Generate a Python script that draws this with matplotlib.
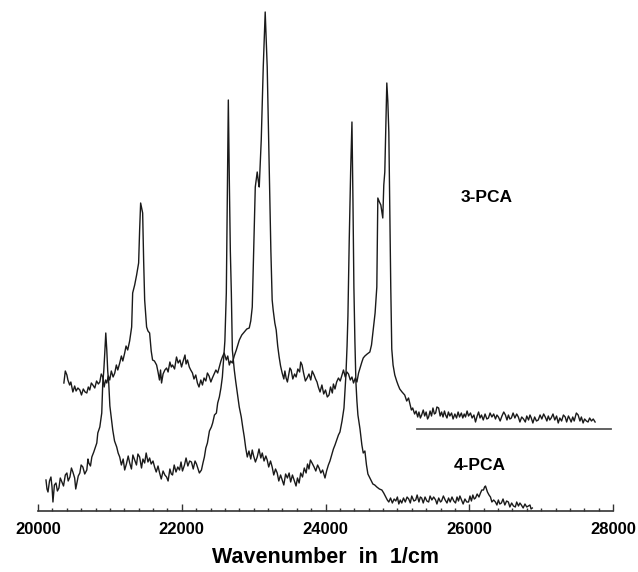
import matplotlib
matplotlib.use("Agg")
import matplotlib.pyplot as plt
from matplotlib.ticker import MultipleLocator

plt.rcParams["font.family"] = ["Liberation Sans", "DejaVu Sans"]

# 3-PCA spectrum: (wavenumber in 1/cm, intensity in arbitrary units)
pca3_points = [
    (20360, 128), (20380, 140), (20402, 136), (20416, 131), (20440, 126), (20457, 129),
    (20471, 124), (20485, 119), (20510, 125), (20530, 120), (20555, 123), (20582, 121),
    (20605, 116), (20630, 122), (20655, 119), (20679, 118), (20700, 124), (20720, 121),
    (20742, 128), (20763, 126), (20790, 123), (20815, 130), (20840, 127), (20860, 129),
    (20880, 137), (20901, 134), (20920, 124), (20940, 131), (20957, 128), (20978, 135),
    (20998, 131), (21020, 140), (21045, 134), (21068, 138), (21090, 146), (21110, 141),
    (21137, 148), (21160, 155), (21180, 150), (21206, 158), (21225, 165), (21248, 161),
    (21275, 170), (21303, 184), (21317, 218), (21345, 226), (21372, 236), (21400, 248),
    (21414, 281), (21428, 308), (21442, 303), (21456, 298), (21470, 250), (21484, 211),
    (21511, 184), (21530, 180), (21553, 178), (21575, 160), (21594, 151), (21620, 150),
    (21650, 146), (21670, 139), (21690, 131), (21705, 141), (21719, 128), (21740, 137),
    (21765, 141), (21789, 143), (21810, 139), (21835, 149), (21855, 144), (21872, 146),
    (21900, 142), (21927, 154), (21950, 148), (21975, 151), (21997, 144), (22020, 150),
    (22045, 156), (22060, 147), (22080, 151), (22105, 144), (22125, 141), (22149, 138),
    (22170, 132), (22195, 136), (22218, 128), (22240, 124), (22265, 131), (22288, 126),
    (22310, 133), (22335, 130), (22357, 138), (22380, 135), (22405, 129), (22426, 133),
    (22450, 137), (22475, 141), (22500, 138), (22523, 144), (22545, 150), (22565, 154),
    (22590, 158), (22620, 151), (22640, 155), (22662, 146), (22680, 150), (22704, 148),
    (22730, 155), (22759, 161), (22780, 166), (22801, 171), (22835, 176), (22870, 179),
    (22905, 182), (22939, 183), (22960, 190), (22981, 204), (23000, 260), (23023, 324),
    (23050, 339), (23065, 330), (23078, 324), (23106, 371), (23134, 444), (23161, 499),
    (23189, 444), (23217, 344), (23240, 260), (23258, 211), (23272, 201), (23295, 188),
    (23314, 181), (23335, 165), (23355, 154), (23375, 145), (23397, 138), (23420, 132),
    (23435, 140), (23452, 133), (23470, 129), (23490, 137), (23505, 143), (23522, 141),
    (23545, 132), (23570, 137), (23591, 134), (23615, 142), (23640, 139), (23655, 149),
    (23674, 146), (23695, 138), (23720, 130), (23744, 133), (23770, 137), (23795, 131),
    (23815, 140), (23841, 136), (23862, 132), (23882, 129), (23900, 124), (23924, 119),
    (23950, 126), (23975, 117), (24000, 121), (24025, 114), (24049, 116), (24070, 124),
    (24095, 118), (24110, 127), (24132, 122), (24155, 129), (24180, 133), (24205, 130),
    (24229, 136), (24250, 141), (24275, 134), (24298, 139), (24320, 137), (24345, 131),
    (24368, 134), (24390, 128), (24415, 133), (24437, 129), (24460, 138), (24485, 144),
    (24506, 149), (24525, 153), (24548, 155), (24580, 157), (24617, 159), (24640, 166),
    (24659, 178), (24690, 198), (24714, 224), (24728, 313), (24750, 309), (24770, 306),
    (24797, 293), (24811, 326), (24825, 339), (24853, 428), (24867, 410), (24881, 379),
    (24895, 300), (24908, 224), (24922, 162), (24940, 146), (24964, 136), (24990, 130),
    (25010, 126), (25033, 122), (25065, 119), (25102, 116), (25130, 110), (25155, 113),
    (25172, 108), (25195, 101), (25213, 103), (25240, 97), (25260, 100), (25283, 94),
    (25300, 99), (25320, 93), (25338, 96), (25360, 101), (25380, 95), (25400, 99),
    (25420, 92), (25435, 94), (25455, 100), (25475, 95), (25495, 103), (25515, 97),
    (25532, 98), (25550, 104), (25574, 103), (25595, 95), (25615, 99), (25635, 94),
    (25655, 100), (25671, 96), (25690, 93), (25710, 99), (25730, 95), (25754, 98),
    (25775, 92), (25800, 97), (25823, 93), (25845, 99), (25865, 94), (25890, 98),
    (25910, 93), (25930, 97), (25948, 94), (25970, 100), (25990, 95), (26017, 98),
    (26040, 93), (26065, 96), (26087, 89), (26110, 95), (26130, 99), (26150, 93),
    (26170, 96), (26195, 91), (26220, 97), (26245, 92), (26267, 93), (26290, 98),
    (26315, 94), (26340, 97), (26365, 92), (26385, 96), (26406, 94), (26430, 90),
    (26455, 95), (26480, 99), (26503, 96), (26525, 91), (26545, 96), (26565, 92),
    (26586, 93), (26610, 98), (26635, 93), (26660, 97), (26683, 94), (26705, 89),
    (26730, 94), (26755, 92), (26780, 89), (26800, 95), (26825, 91), (26845, 96),
    (26863, 93), (26885, 88), (26910, 94), (26935, 90), (26960, 91), (26985, 96),
    (27010, 92), (27035, 97), (27057, 94), (27080, 90), (27100, 95), (27120, 91),
    (27140, 93), (27165, 97), (27190, 91), (27215, 95), (27238, 88), (27260, 93),
    (27285, 90), (27310, 96), (27335, 94), (27355, 89), (27380, 95), (27400, 92),
    (27418, 89), (27440, 94), (27460, 90), (27490, 98), (27515, 96), (27540, 90),
    (27560, 94), (27584, 88), (27605, 92), (27630, 90), (27653, 89), (27675, 93),
    (27700, 90), (27725, 92), (27751, 89),
]

# 4-PCA spectrum
pca4_points = [
    (20111, 31), (20125, 22), (20139, 19), (20160, 30), (20180, 34), (20195, 24),
    (20208, 9), (20228, 26), (20250, 28), (20270, 20), (20291, 23), (20310, 33),
    (20333, 29), (20355, 25), (20380, 36), (20402, 38), (20420, 30), (20444, 34),
    (20465, 43), (20485, 39), (20510, 33), (20525, 22), (20541, 28), (20560, 35),
    (20582, 38), (20600, 46), (20624, 44), (20650, 37), (20679, 41), (20695, 52),
    (20707, 48), (20730, 45), (20749, 54), (20776, 59), (20800, 64), (20818, 68),
    (20832, 78), (20860, 84), (20887, 98), (20901, 128), (20915, 140), (20929, 158),
    (20943, 178), (20957, 161), (20970, 140), (20984, 128), (21000, 105), (21012, 98),
    (21025, 90), (21040, 81), (21065, 70), (21095, 64), (21115, 58), (21137, 54),
    (21160, 46), (21185, 52), (21206, 41), (21230, 47), (21255, 55), (21276, 48),
    (21300, 42), (21320, 56), (21345, 51), (21370, 46), (21390, 57), (21414, 54),
    (21440, 43), (21460, 52), (21484, 48), (21505, 58), (21530, 49), (21553, 53),
    (21575, 47), (21600, 50), (21622, 44), (21645, 39), (21670, 45), (21692, 38),
    (21715, 32), (21740, 40), (21765, 36), (21789, 34), (21810, 30), (21835, 42),
    (21855, 37), (21872, 36), (21895, 46), (21920, 39), (21945, 44), (21969, 41),
    (21990, 49), (22010, 40), (22038, 46), (22060, 53), (22085, 45), (22110, 50),
    (22135, 49), (22160, 42), (22185, 50), (22205, 47), (22218, 44), (22245, 38),
    (22274, 41), (22295, 48), (22315, 54), (22335, 63), (22357, 68), (22385, 80),
    (22412, 84), (22430, 88), (22455, 96), (22482, 98), (22500, 108), (22523, 114),
    (22545, 123), (22565, 134), (22579, 148), (22600, 170), (22620, 218), (22634, 320),
    (22648, 411), (22662, 330), (22676, 260), (22690, 218), (22704, 161), (22731, 141),
    (22750, 130), (22773, 118), (22800, 104), (22828, 94), (22850, 83), (22870, 74),
    (22890, 63), (22912, 54), (22935, 60), (22960, 52), (22981, 61), (23000, 55),
    (23025, 49), (23050, 54), (23075, 62), (23100, 53), (23120, 58), (23145, 50),
    (23170, 55), (23189, 51), (23210, 44), (23235, 50), (23258, 44), (23280, 36),
    (23305, 42), (23328, 38), (23350, 30), (23375, 36), (23397, 31), (23420, 26),
    (23445, 37), (23470, 33), (23494, 38), (23515, 29), (23540, 36), (23563, 31),
    (23590, 25), (23610, 33), (23633, 28), (23655, 38), (23680, 34), (23705, 43),
    (23730, 38), (23750, 47), (23770, 42), (23790, 51), (23813, 48), (23841, 44),
    (23865, 40), (23890, 46), (23910, 43), (23935, 38), (23960, 41), (23993, 33),
    (24015, 40), (24040, 46), (24062, 50), (24090, 57), (24110, 62), (24132, 66),
    (24160, 72), (24180, 76), (24201, 79), (24230, 90), (24257, 103), (24284, 136),
    (24300, 165), (24312, 195), (24330, 270), (24350, 340), (24368, 389), (24382, 310),
    (24395, 224), (24409, 170), (24423, 129), (24437, 110), (24451, 96), (24480, 82),
    (24506, 66), (24525, 58), (24548, 60), (24570, 46), (24590, 37), (24625, 32),
    (24659, 27), (24685, 26), (24714, 24), (24750, 22), (24784, 21), (24810, 18),
    (24839, 14), (24860, 11), (24881, 9), (24905, 13), (24930, 8), (24955, 12),
    (24978, 10), (25000, 14), (25020, 7), (25040, 11), (25061, 8), (25085, 13),
    (25110, 9), (25135, 14), (25158, 12), (25180, 8), (25200, 15), (25230, 10),
    (25255, 11), (25275, 16), (25300, 9), (25320, 14), (25338, 13), (25360, 8),
    (25385, 14), (25410, 10), (25435, 9), (25455, 15), (25480, 11), (25505, 14),
    (25532, 11), (25550, 7), (25575, 13), (25600, 9), (25615, 10), (25640, 15),
    (25665, 11), (25690, 8), (25712, 13), (25735, 9), (25760, 14), (25785, 10),
    (25809, 8), (25830, 14), (25850, 10), (25870, 15), (25893, 11), (25915, 7),
    (25940, 12), (25965, 9), (25990, 9), (26010, 15), (26030, 10), (26050, 16),
    (26070, 12), (26087, 13), (26110, 17), (26135, 14), (26156, 18), (26175, 21),
    (26198, 21), (26213, 24), (26226, 25), (26240, 22), (26253, 19), (26275, 16),
    (26295, 14), (26315, 9), (26340, 11), (26364, 9), (26385, 6), (26405, 11),
    (26425, 7), (26447, 8), (26470, 12), (26495, 6), (26520, 10), (26544, 9),
    (26565, 4), (26590, 8), (26615, 5), (26641, 4), (26660, 9), (26685, 5),
    (26705, 8), (26725, 6), (26750, 3), (26775, 7), (26800, 4), (26822, 5),
    (26845, 6), (26860, 2), (26877, 3),
]

# reference baseline drawn under the 3-PCA tail
base_wn = [25270, 27970]
base_int = [82, 82]

wn_3pca, int_3pca = zip(*pca3_points)
wn_4pca, int_4pca = zip(*pca4_points)

fig = plt.figure(figsize=(6.38, 5.72), dpi=100)
ax = fig.add_axes([38 / 638, 61 / 572, 575 / 638, 501 / 572])

ax.plot(wn_3pca, int_3pca, color="#1a1a1a", lw=1.0)
ax.plot(wn_4pca, int_4pca, color="#1a1a1a", lw=1.0)
ax.plot(base_wn, base_int, color="#555555", lw=1.3)

ax.text(26240, 314, "3-PCA", fontsize=12.5, fontweight="bold", ha="center", va="center")
ax.text(26140, 46, "4-PCA", fontsize=12.5, fontweight="bold", ha="center", va="center")

ax.set_xlim(20000, 28000)
ax.set_ylim(0, 501)
ax.xaxis.set_major_locator(MultipleLocator(2000))
ax.xaxis.set_minor_locator(MultipleLocator(200))
ax.tick_params(axis="x", which="major", direction="in", length=5, width=1, pad=8,
               labelsize=12, color="#333333")
ax.tick_params(axis="x", which="minor", direction="in", length=2.5, width=1, color="#333333")
for lab in ax.get_xticklabels():
    lab.set_fontweight("bold")
ax.set_yticks([])
for side in ["left", "right", "top"]:
    ax.spines[side].set_visible(False)
ax.spines["bottom"].set_color("#333333")
ax.spines["bottom"].set_linewidth(1.2)
ax.set_xlabel("Wavenumber  in  1/cm", fontsize=15.5, fontweight="bold", labelpad=7)

fig.savefig("out.png", dpi=100)
